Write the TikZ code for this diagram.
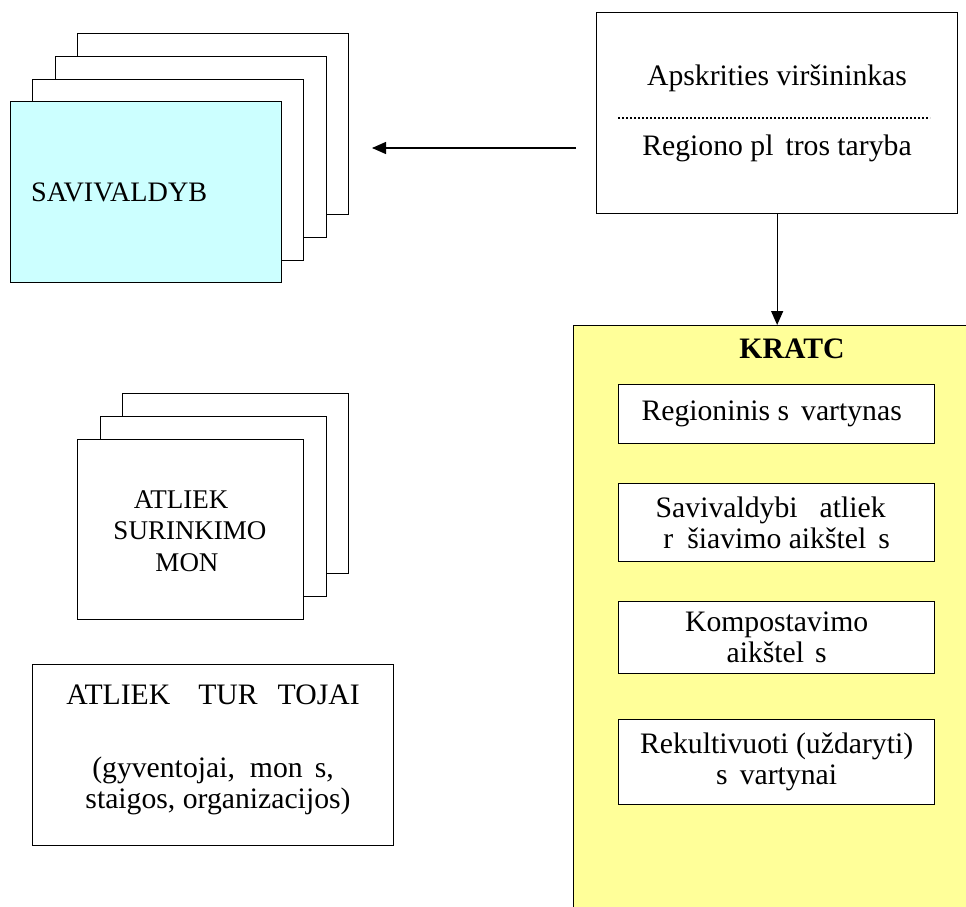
\documentclass[tikz,border=0pt]{standalone}
\usepackage{fontspec}
\setmainfont{Liberation Serif}
\usetikzlibrary{arrows.meta}
\definecolor{cyanfill}{HTML}{CCFFFF}
\definecolor{yellowfill}{HTML}{FFFF99}
\begin{document}
\begin{tikzpicture}[x=1pt,y=-1pt,
  box/.style={draw, line width=1.3pt, inner sep=0pt, anchor=north west, align=center},
  card/.style={box, fill=white},
  bigtext/.style={font=\fontsize{29.7}{31}\selectfont},
  smalltext/.style={font=\fontsize{27}{31.5}\selectfont},
  arr/.style={line width=1.3pt, -{Triangle[length=14pt,width=12pt]}}
]
\useasboundingbox (0,0) rectangle (966,907);

% SAVIVALDYB stack
\node[card, minimum width=271pt, minimum height=181pt] (s4) at (77,33) {};
\node[card, minimum width=271pt, minimum height=181pt] (s3) at (55,56) {};
\node[card, minimum width=271pt, minimum height=181pt] (s2) at (32,79) {};
\node[box, fill=cyanfill, minimum width=271pt, minimum height=181pt] (s1) at (10,101) {};
\node[font=\fontsize{28.2}{31}\selectfont, anchor=west, inner sep=0pt] (savtxt) at (31,192) {SAVIVALDYB};

% Apskrities box
\node[box, fill=white, minimum width=361pt, minimum height=201pt] (apsk) at (596,12) {};
\node[bigtext, anchor=base] (apsk1) at (777,85) {Apskrities viršininkas};
\node[bigtext, anchor=base] (apsk2) at (777,155) {Regiono pl\kern12pt tros taryba};
\coordinate (dotL) at (618,118);
\coordinate (dotR) at (930,118);
\draw[line width=1.8pt, dash pattern=on 1.6pt off 2.4pt] (dotL) -- (dotR);

% horizontal arrow
\coordinate (hstart) at (576,148);
\coordinate (hend) at (372,148);
\draw[arr] (hstart) -- (hend);

% KRATC
\begin{scope}
\clip (0,0) rectangle (966,907);
\node[box, fill=yellowfill, minimum width=430pt, minimum height=640pt] (kratc) at (573,325) {};
\end{scope}
\draw[arr] (apsk.south) -- (apsk.south |- kratc.north);
\node[font=\fontsize{29.7}{31}\selectfont\bfseries, anchor=base] (kratctxt) at (792,358) {KRATC};

\node[box, bigtext, fill=white, minimum width=316pt, minimum height=59pt] (k1) at (618,384)
  {Regioninis s\kern12pt vartynas\kern10pt};
\node[box, bigtext, fill=white, minimum width=316pt, minimum height=78pt] (k2) at (618,483)
  {Savivaldybi\kern22pt atliek\kern12pt\\r\kern14pt šiavimo aikštel\kern12pt s};
\node[box, bigtext, fill=white, minimum width=316pt, minimum height=72pt] (k3) at (618,601)
  {Kompostavimo\\aikštel\kern11pt s};
\node[box, bigtext, fill=white, minimum width=316pt, minimum height=85pt] (k4) at (618,719)
  {Rekultivuoti (uždaryti)\\s\kern12pt vartynai};

% ATLIEK SURINKIMO stack
\node[card, minimum width=226pt, minimum height=180pt] (a3) at (122,393) {};
\node[card, minimum width=226pt, minimum height=180pt] (a2) at (100,416) {};
\node[card, minimum width=226pt, minimum height=180pt] (a1) at (77,439) {};
\node[smalltext, align=center, inner sep=0pt] (atxt) at (189,531)
  {ATLIEK\kern16pt\\\kern2pt SURINKIMO\\MON\kern4pt};

% ATLIEKU TURETOJAI box
\node[box, fill=white, minimum width=361pt, minimum height=181pt] (tur) at (32,664) {};
\node[bigtext, anchor=base] (tur1) at (213,704) {ATLIEK\kern28pt TUR\kern20pt TOJAI};
\node[bigtext, anchor=base] (tur2) at (213,777) {(gyventojai,\kern15pt mon\kern12pt s,};
\node[bigtext, anchor=base] (tur3) at (218,808) {staigos, organizacijos)};
\end{tikzpicture}
\end{document}
